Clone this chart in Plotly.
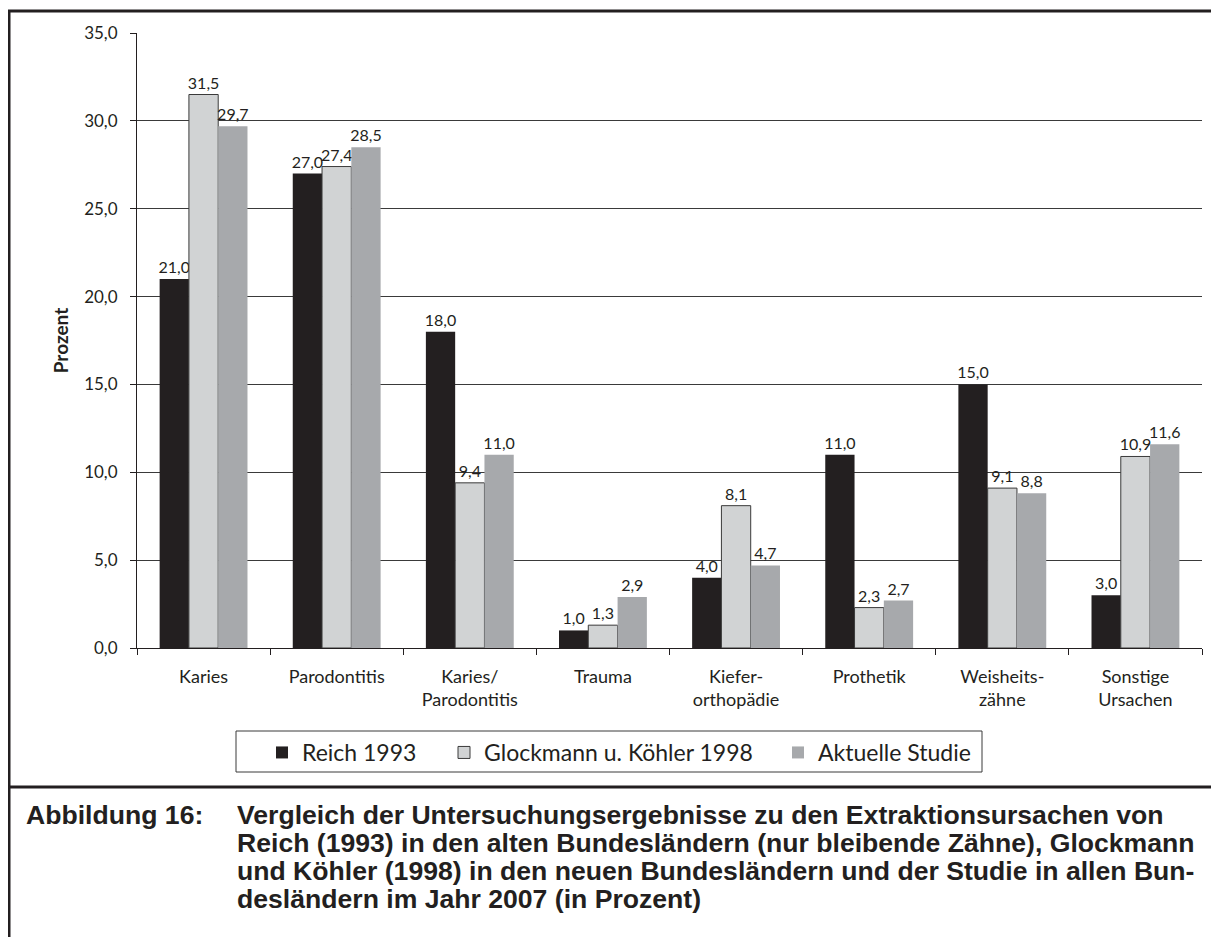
import plotly.graph_objects as go

categories = ["Karies", "Parodontitis", "Karies/<br>Parodontitis", "Trauma",
              "Kiefer-<br>orthopädie", "Prothetik", "Weisheits-<br>zähne", "Sonstige<br>Ursachen"]
reich_1993 = [21.0, 27.0, 18.0, 1.0, 4.0, 11.0, 15.0, 3.0]
glockmann_1998 = [31.5, 27.4, 9.4, 1.3, 8.1, 2.3, 9.1, 10.9]
aktuelle_studie = [29.7, 28.5, 11.0, 2.9, 4.7, 2.7, 8.8, 11.6]
series_names = ["Reich 1993", "Glockmann u. Köhler 1998", "Aktuelle Studie"]
y_ticks = [0, 5, 10, 15, 20, 25, 30, 35]
caption_label = "Abbildung 16:"
caption_lines = [
    "Vergleich der Untersuchungsergebnisse zu den Extraktionsursachen von",
    "Reich (1993) in den alten Bundesländern (nur bleibende Zähne), Glockmann",
    "und Köhler (1998) in den neuen Bundesländern und der Studie in allen Bun-",
    "desländern im Jahr 2007 (in Prozent)",
]

# page offset of the figure (default body margin)
OFF = 8
W, H = 1219 - OFF, 937 - OFF
L = 137 - OFF
T = 33 - OFF
R = W - (1202 - OFF)
B = H - (648 - OFF)
PW, PH = W - L - R, H - T - B
def px(x): return (x - OFF - L) / PW
def py(y): return (H - B - (y - OFF)) / PH

FONT = "Lato"
INK = "#231f20"

fig = go.Figure()
styles = [
    dict(color="#231f20", line=dict(width=0), lw=137),
    dict(color="#d1d3d4", line=dict(color="#3a3a3a", width=1), lw=289),
    dict(color="#a7a9ac", line=dict(width=0), lw=170),
]
for name, vals, st in zip(series_names, [reich_1993, glockmann_1998, aktuelle_studie], styles):
    fig.add_trace(go.Bar(
        name=name, x=categories, y=vals,
        marker=dict(color=st["color"], line=st["line"]),
        texttemplate="%{y:.1f}", textposition="outside", constraintext="none",
        textfont=dict(family=FONT, size=16, color=INK),
        cliponaxis=False, legendwidth=st["lw"],
    ))

fig.update_layout(
    width=W, height=H,
    margin=dict(l=L, r=R, t=T, b=B),
    paper_bgcolor="white", plot_bgcolor="white",
    separators=",.",
    barmode="group", bargap=0.34, bargroupgap=0,
    font=dict(family=FONT, color=INK),
    showlegend=True,
    legend=dict(orientation="h", x=px(262), xanchor="left", y=py(731), yanchor="top",
                font=dict(family=FONT, size=23, color=INK),
                bgcolor="rgba(0,0,0,0)", borderwidth=0, traceorder="normal"),
    xaxis=dict(showline=True, linecolor=INK, linewidth=1, ticks="outside", tickson="boundaries",
               ticklen=6, tickcolor=INK, tickfont=dict(family=FONT, size=18, color=INK),
               ticklabelstandoff=12, showgrid=False),
    yaxis=dict(range=[0, 35], tickvals=y_ticks, tickformat=".1f", showline=True, linecolor=INK,
               linewidth=1, ticks="outside", ticklen=6, tickcolor=INK,
               tickfont=dict(family=FONT, size=17, color=INK), ticklabelstandoff=9,
               showgrid=True, gridcolor="#3a3a3a", gridwidth=1, zeroline=False,
               title=dict(text="<b>Prozent</b>", font=dict(family=FONT, size=19, color=INK), standoff=10)),
)

shapes = [
    # outer frame
    dict(type="line", xref="paper", yref="paper", x0=px(9), x1=px(9), y0=py(10), y1=py(940),
         line=dict(color=INK, width=3)),
    dict(type="line", xref="paper", yref="paper", x0=px(8), x1=px(1222), y0=py(11), y1=py(11),
         line=dict(color=INK, width=3)),
    dict(type="line", xref="paper", yref="paper", x0=px(8), x1=px(1222), y0=py(787), y1=py(787),
         line=dict(color=INK, width=3)),
    # legend box
    dict(type="rect", xref="paper", yref="paper", x0=px(236), x1=px(982), y0=py(731), y1=py(772),
         line=dict(color="#3a3a3a", width=1), fillcolor="rgba(0,0,0,0)"),
]
fig.update_layout(shapes=shapes)

cap_font = dict(family="Liberation Sans", size=26.6, color=INK)
line_y = [815, 843, 871, 899]
fig.add_annotation(xref="paper", yref="paper", x=px(24), y=py(line_y[0]), xanchor="left",
                   yanchor="middle", text="<b>" + caption_label + "</b>", showarrow=False, font=cap_font)
for txt, yy in zip(caption_lines, line_y):
    fig.add_annotation(xref="paper", yref="paper", x=px(235), y=py(yy), xanchor="left",
                       yanchor="middle", text="<b>" + txt + "</b>", showarrow=False, font=cap_font)

fig.write_html("out.html")
